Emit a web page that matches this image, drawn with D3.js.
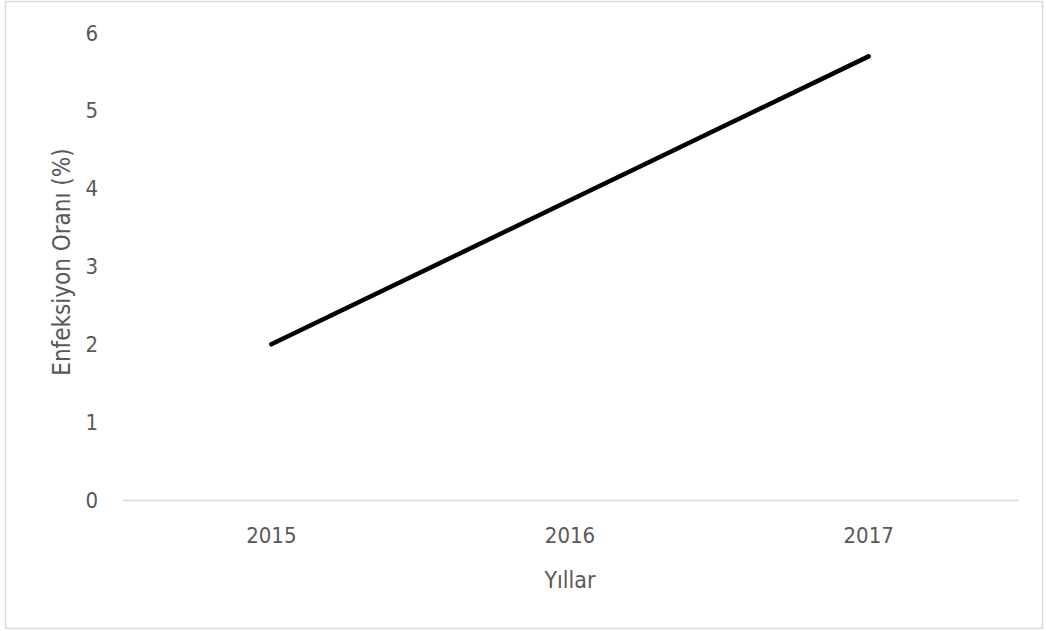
<!DOCTYPE html>
<html>
<head>
<meta charset="utf-8">
<script src="https://cdn.jsdelivr.net/npm/d3@7"></script>
<style>
  html, body { margin: 0; padding: 0; background: #fff; }
  svg text { font-family: "DejaVu Sans Condensed", "Liberation Sans Narrow", "Liberation Sans", sans-serif; fill: #595959; }
</style>
</head>
<body>
<svg id="chart" width="1046" height="631"></svg>
<script>
// Infection rate by year
const years = ["2015", "2016", "2017"];
const rates = [2.0, 3.85, 5.7];
const yTicks = [0, 1, 2, 3, 4, 5, 6];

const svg = d3.select("#chart");
const W = 1046, H = 631;
const margin = { left: 122, right: 28, top: 33, bottom: 131 };

// chart frame
svg.append("rect")
  .attr("x", 5.5).attr("y", 1.5)
  .attr("width", W - 9).attr("height", H - 4)
  .attr("fill", "#fff").attr("stroke", "#d9d9d9").attr("stroke-width", 1.5);

const x = d3.scaleBand().domain(years).range([margin.left, W - margin.right]);
const y = d3.scaleLinear().domain([0, 6]).range([H - margin.bottom, margin.top]);

// baseline and category labels
const xAxis = svg.append("g")
  .attr("transform", `translate(0,${y(0)})`)
  .call(d3.axisBottom(x).tickSize(0).tickPadding(27));
xAxis.select(".domain").attr("stroke", "#d9d9d9").attr("stroke-width", 1.5);
xAxis.selectAll("text").style("font-size", "22px");

// value labels
const yAxis = svg.append("g")
  .attr("transform", `translate(${margin.left - 24},0)`)
  .call(d3.axisLeft(y).tickValues(yTicks).tickFormat(d3.format("d")).tickSize(0).tickPadding(0));
yAxis.select(".domain").remove();
yAxis.selectAll("text").style("font-size", "22px");

// series line
const line = d3.line()
  .x((d, i) => x(years[i]) + x.bandwidth() / 2)
  .y(d => y(d));
svg.append("path")
  .datum(rates)
  .attr("d", line)
  .attr("fill", "none")
  .attr("stroke", "#000")
  .attr("stroke-width", 4.5)
  .attr("stroke-linecap", "round")
  .attr("stroke-linejoin", "round");

// axis titles
svg.append("text")
  .attr("x", x("2016") + x.bandwidth() / 2)
  .attr("y", 588)
  .attr("text-anchor", "middle")
  .style("font-size", "23px")
  .text("Yıllar");

svg.append("text")
  .attr("transform", `translate(70,262) rotate(-90)`)
  .attr("text-anchor", "middle")
  .style("font-size", "24px")
  .text("Enfeksiyon Oranı (%)");
</script>
</body>
</html>
